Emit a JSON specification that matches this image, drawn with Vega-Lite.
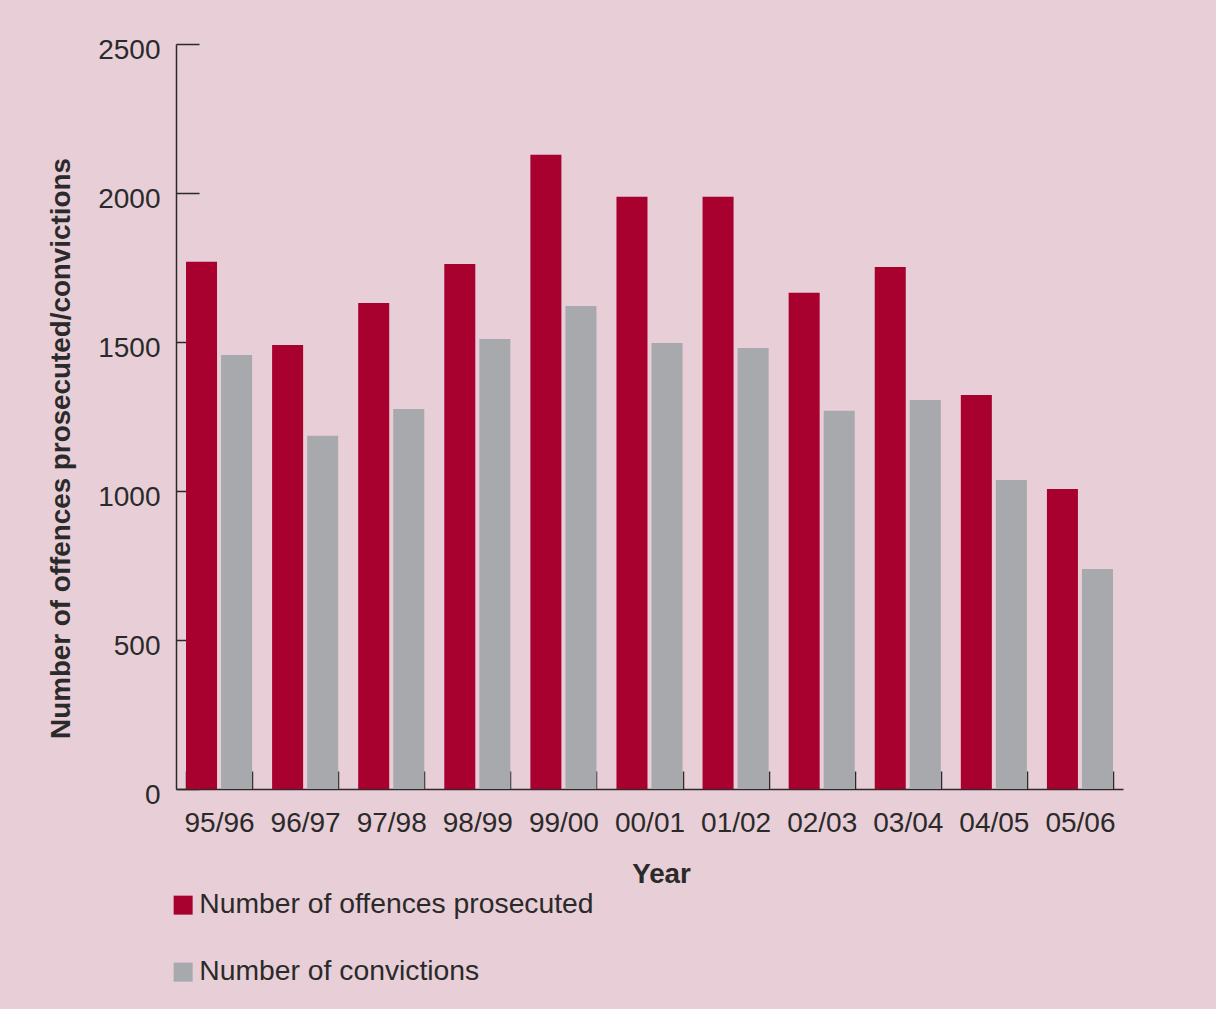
{
  "$schema": "https://vega.github.io/schema/vega-lite/v6.json",
  "description": "Offences prosecuted and convictions by year, 95/96 to 05/06.",
  "autosize": "none",
  "width": 947,
  "height": 745,
  "padding": {"left": 176, "top": 44, "right": 93, "bottom": 220},
  "background": "#e8ced6",
  "data": {
    "values": [
      {"year": "95/96", "series": "Number of offences prosecuted", "value": 1769},
      {"year": "95/96", "series": "Number of convictions", "value": 1456},
      {"year": "96/97", "series": "Number of offences prosecuted", "value": 1490},
      {"year": "96/97", "series": "Number of convictions", "value": 1185},
      {"year": "97/98", "series": "Number of offences prosecuted", "value": 1631},
      {"year": "97/98", "series": "Number of convictions", "value": 1275},
      {"year": "98/99", "series": "Number of offences prosecuted", "value": 1762},
      {"year": "98/99", "series": "Number of convictions", "value": 1510},
      {"year": "99/00", "series": "Number of offences prosecuted", "value": 2128},
      {"year": "99/00", "series": "Number of convictions", "value": 1621},
      {"year": "00/01", "series": "Number of offences prosecuted", "value": 1987},
      {"year": "00/01", "series": "Number of convictions", "value": 1497},
      {"year": "01/02", "series": "Number of offences prosecuted", "value": 1987},
      {"year": "01/02", "series": "Number of convictions", "value": 1480},
      {"year": "02/03", "series": "Number of offences prosecuted", "value": 1665},
      {"year": "02/03", "series": "Number of convictions", "value": 1269},
      {"year": "03/04", "series": "Number of offences prosecuted", "value": 1752},
      {"year": "03/04", "series": "Number of convictions", "value": 1305},
      {"year": "04/05", "series": "Number of offences prosecuted", "value": 1322},
      {"year": "04/05", "series": "Number of convictions", "value": 1037},
      {"year": "05/06", "series": "Number of offences prosecuted", "value": 1007},
      {"year": "05/06", "series": "Number of convictions", "value": 738}
    ]
  },
  "mark": "bar",
  "encoding": {
    "x": {
      "field": "year",
      "type": "nominal",
      "sort": null,
      "title": "Year",
      "scale": {"paddingInner": 0.2326, "paddingOuter": 0.1163},
      "axis": {
        "labelAngle": 0,
        "labelPadding": 38,
        "tickBand": "extent",
        "tickSize": -18,
        "titleX": 485,
        "titleY": 93,
        "titleBaseline": "alphabetic"
      }
    },
    "xOffset": {
      "field": "series",
      "sort": ["Number of offences prosecuted", "Number of convictions"],
      "scale": {"paddingInner": 0.115, "paddingOuter": 0}
    },
    "y": {
      "field": "value",
      "type": "quantitative",
      "title": "Number of offences prosecuted/convictions",
      "scale": {"domain": [0, 2500], "nice": false},
      "axis": {
        "values": [0, 500, 1000, 1500, 2000, 2500],
        "format": "d",
        "tickSize": -23,
        "labelPadding": 39,
        "labelOffset": 6,
        "titleAngle": 270,
        "titleAlign": "center",
        "titleBaseline": "alphabetic",
        "titleX": -107,
        "titleY": 404
      }
    },
    "color": {
      "field": "series",
      "type": "nominal",
      "sort": ["Number of offences prosecuted", "Number of convictions"],
      "scale": {
        "domain": ["Number of offences prosecuted", "Number of convictions"],
        "range": ["#a8002f", "#a7a9ac"]
      },
      "legend": {
        "title": null,
        "orient": "none",
        "legendX": -7,
        "legendY": 847,
        "direction": "vertical"
      }
    }
  },
  "config": {
    "font": "Liberation Sans",
    "view": {"stroke": null},
    "axis": {
      "grid": false,
      "domainColor": "#2b2a2b",
      "domainWidth": 1.5,
      "tickColor": "#2b2a2b",
      "tickWidth": 1.5,
      "labelColor": "#2b2a2b",
      "labelFontSize": 28,
      "labelFont": "Liberation Sans",
      "titleColor": "#2b2a2b",
      "titleFontSize": 27.8,
      "titleFont": "Liberation Sans",
      "titleFontWeight": "bold"
    },
    "legend": {
      "padding": 0,
      "symbolType": "square",
      "symbolSize": 361,
      "symbolStrokeWidth": 0,
      "symbolOpacity": 1,
      "labelFontSize": 28.3,
      "labelFont": "Liberation Sans",
      "labelColor": "#2b2a2b",
      "labelOffset": 2,
      "labelLimit": 600,
      "rowPadding": 38
    }
  }
}
